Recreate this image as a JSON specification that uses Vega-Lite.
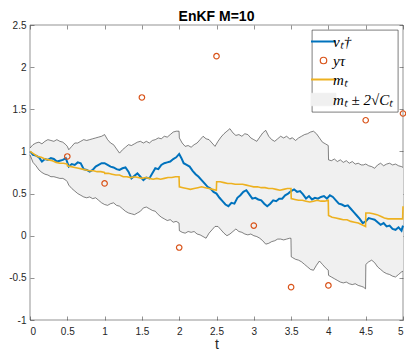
{
  "$schema": "https://vega.github.io/schema/vega-lite/v6.json",
  "width": 373,
  "height": 295,
  "autosize": "none",
  "padding": {"left": 30, "top": 25, "right": 3, "bottom": 31},
  "background": "white",
  "title": {"text": "EnKF M=10", "font": "Liberation Sans", "fontSize": 14, "fontWeight": "bold", "color": "black", "offset": -4, "anchor": "middle"},
  "config": {
    "view": {"stroke": "#262626", "strokeWidth": 0.5},
    "axis": {"grid": false, "domain": false, "tickColor": "#262626", "tickWidth": 0.5, "tickSize": -4, "labelFont": "Liberation Sans", "labelFontSize": 10, "labelColor": "#262626", "titleFont": "Liberation Sans", "titleColor": "#262626", "titleFontWeight": "normal"}
  },
  "datasets": {
    "band": [
      {"t":0,"hi":1.04,"lo":0.96},{"t":0.04,"hi":1.08,"lo":0.87},{"t":0.08,"hi":1.10,"lo":0.83},{"t":0.12,"hi":1.11,"lo":0.78},{"t":0.16,"hi":1.09,"lo":0.75},{"t":0.20,"hi":1.12,"lo":0.73},{"t":0.24,"hi":1.14,"lo":0.72},{"t":0.28,"hi":1.13,"lo":0.70},{"t":0.32,"hi":1.12,"lo":0.70},{"t":0.36,"hi":1.14,"lo":0.69},{"t":0.40,"hi":1.12,"lo":0.68},{"t":0.44,"hi":1.11,"lo":0.68},{"t":0.48,"hi":1.08,"lo":0.66},{"t":0.50,"hi":1.06,"lo":0.64},{"t":0.52,"hi":1.02,"lo":0.60},{"t":0.56,"hi":1.06,"lo":0.56},{"t":0.60,"hi":1.10,"lo":0.53},{"t":0.64,"hi":1.10,"lo":0.50},{"t":0.68,"hi":1.12,"lo":0.48},{"t":0.72,"hi":1.14,"lo":0.46},{"t":0.76,"hi":1.13,"lo":0.45},{"t":0.80,"hi":1.14,"lo":0.46},{"t":0.84,"hi":1.15,"lo":0.44},{"t":0.88,"hi":1.16,"lo":0.45},{"t":0.92,"hi":1.17,"lo":0.42},{"t":0.96,"hi":1.18,"lo":0.39},{"t":1.00,"hi":1.20,"lo":0.37},{"t":1.04,"hi":1.14,"lo":0.36},{"t":1.08,"hi":1.10,"lo":0.38},{"t":1.12,"hi":1.08,"lo":0.39},{"t":1.16,"hi":1.03,"lo":0.36},{"t":1.20,"hi":0.98,"lo":0.35},{"t":1.24,"hi":1.02,"lo":0.32},{"t":1.28,"hi":1.05,"lo":0.29},{"t":1.32,"hi":1.08,"lo":0.27},{"t":1.36,"hi":1.07,"lo":0.26},{"t":1.40,"hi":1.09,"lo":0.25},{"t":1.44,"hi":1.11,"lo":0.27},{"t":1.48,"hi":1.12,"lo":0.29},{"t":1.52,"hi":1.10,"lo":0.33},{"t":1.56,"hi":1.12,"lo":0.34},{"t":1.60,"hi":1.10,"lo":0.32},{"t":1.64,"hi":1.13,"lo":0.30},{"t":1.68,"hi":1.14,"lo":0.29},{"t":1.72,"hi":1.16,"lo":0.25},{"t":1.76,"hi":1.15,"lo":0.22},{"t":1.80,"hi":1.18,"lo":0.20},{"t":1.84,"hi":1.17,"lo":0.18},{"t":1.88,"hi":1.20,"lo":0.19},{"t":1.92,"hi":1.23,"lo":0.16},{"t":1.96,"hi":1.24,"lo":0.17},{"t":1.998,"hi":1.24,"lo":0.15},{"t":2.002,"hi":1.16,"lo":0.06},{"t":2.04,"hi":1.10,"lo":0.04},{"t":2.08,"hi":1.06,"lo":0.03},{"t":2.12,"hi":1.07,"lo":0.05},{"t":2.16,"hi":1.05,"lo":0.04},{"t":2.20,"hi":1.08,"lo":0.05},{"t":2.24,"hi":1.10,"lo":0.02},{"t":2.28,"hi":1.14,"lo":0.01},{"t":2.32,"hi":1.18,"lo":-0.01},{"t":2.36,"hi":1.15,"lo":-0.03},{"t":2.40,"hi":1.14,"lo":0.03},{"t":2.44,"hi":1.10,"lo":0.07},{"t":2.48,"hi":1.06,"lo":0.11},{"t":2.52,"hi":1.12,"lo":0.11},{"t":2.56,"hi":1.17,"lo":0.07},{"t":2.60,"hi":1.21,"lo":0.03},{"t":2.64,"hi":1.24,"lo":0.00},{"t":2.68,"hi":1.27,"lo":0.02},{"t":2.72,"hi":1.22,"lo":0.05},{"t":2.76,"hi":1.19,"lo":0.08},{"t":2.80,"hi":1.20,"lo":0.05},{"t":2.84,"hi":1.18,"lo":0.04},{"t":2.88,"hi":1.21,"lo":0.02},{"t":2.92,"hi":1.20,"lo":0.01},{"t":2.96,"hi":1.16,"lo":0.02},{"t":3.00,"hi":1.14,"lo":0.00},{"t":3.04,"hi":1.12,"lo":-0.01},{"t":3.08,"hi":1.17,"lo":-0.03},{"t":3.12,"hi":1.22,"lo":-0.06},{"t":3.16,"hi":1.25,"lo":-0.10},{"t":3.20,"hi":1.18,"lo":-0.09},{"t":3.24,"hi":1.14,"lo":-0.07},{"t":3.28,"hi":1.12,"lo":-0.06},{"t":3.32,"hi":1.15,"lo":-0.04},{"t":3.36,"hi":1.18,"lo":-0.04},{"t":3.40,"hi":1.16,"lo":-0.05},{"t":3.44,"hi":1.18,"lo":-0.04},{"t":3.48,"hi":1.15,"lo":-0.03},{"t":3.498,"hi":1.15,"lo":-0.03},{"t":3.502,"hi":1.16,"lo":-0.25},{"t":3.52,"hi":1.16,"lo":-0.26},{"t":3.56,"hi":1.13,"lo":-0.28},{"t":3.60,"hi":1.16,"lo":-0.29},{"t":3.64,"hi":1.18,"lo":-0.31},{"t":3.68,"hi":1.20,"lo":-0.34},{"t":3.72,"hi":1.21,"lo":-0.37},{"t":3.76,"hi":1.23,"lo":-0.40},{"t":3.80,"hi":1.24,"lo":-0.41},{"t":3.84,"hi":1.21,"lo":-0.35},{"t":3.88,"hi":1.16,"lo":-0.30},{"t":3.92,"hi":1.11,"lo":-0.34},{"t":3.96,"hi":1.09,"lo":-0.38},{"t":3.998,"hi":1.07,"lo":-0.41},{"t":4.002,"hi":0.90,"lo":-0.47},{"t":4.04,"hi":0.89,"lo":-0.49},{"t":4.08,"hi":0.91,"lo":-0.51},{"t":4.12,"hi":0.88,"lo":-0.53},{"t":4.16,"hi":0.90,"lo":-0.55},{"t":4.20,"hi":0.87,"lo":-0.56},{"t":4.24,"hi":0.89,"lo":-0.55},{"t":4.28,"hi":0.86,"lo":-0.57},{"t":4.32,"hi":0.88,"lo":-0.58},{"t":4.36,"hi":0.85,"lo":-0.57},{"t":4.40,"hi":0.86,"lo":-0.59},{"t":4.44,"hi":0.84,"lo":-0.60},{"t":4.47,"hi":0.84,"lo":-0.61},{"t":4.498,"hi":0.85,"lo":-0.63},{"t":4.502,"hi":0.85,"lo":-0.34},{"t":4.54,"hi":0.83,"lo":-0.31},{"t":4.58,"hi":0.82,"lo":-0.29},{"t":4.62,"hi":0.80,"lo":-0.32},{"t":4.66,"hi":0.84,"lo":-0.37},{"t":4.70,"hi":0.86,"lo":-0.40},{"t":4.74,"hi":0.83,"lo":-0.43},{"t":4.78,"hi":0.85,"lo":-0.45},{"t":4.82,"hi":0.86,"lo":-0.46},{"t":4.86,"hi":0.84,"lo":-0.48},{"t":4.90,"hi":0.85,"lo":-0.49},{"t":4.94,"hi":0.83,"lo":-0.46},{"t":4.98,"hi":0.82,"lo":-0.43},{"t":5.00,"hi":0.81,"lo":-0.42}
    ],
    "truth": [
      {"t":0,"v":1.00},{"t":0.04,"v":0.96},{"t":0.08,"v":0.95},{"t":0.12,"v":0.93},{"t":0.16,"v":0.88},{"t":0.2,"v":0.91},{"t":0.24,"v":0.9},{"t":0.28,"v":0.92},{"t":0.32,"v":0.91},{"t":0.36,"v":0.88},{"t":0.4,"v":0.89},{"t":0.44,"v":0.9},{"t":0.48,"v":0.92},{"t":0.52,"v":0.82},{"t":0.56,"v":0.85},{"t":0.6,"v":0.84},{"t":0.64,"v":0.87},{"t":0.68,"v":0.86},{"t":0.72,"v":0.79},{"t":0.76,"v":0.78},{"t":0.8,"v":0.76},{"t":0.84,"v":0.78},{"t":0.88,"v":0.82},{"t":0.92,"v":0.84},{"t":0.96,"v":0.86},{"t":1.0,"v":0.86},{"t":1.04,"v":0.84},{"t":1.08,"v":0.82},{"t":1.12,"v":0.81},{"t":1.16,"v":0.79},{"t":1.2,"v":0.78},{"t":1.24,"v":0.8},{"t":1.28,"v":0.81},{"t":1.32,"v":0.76},{"t":1.36,"v":0.68},{"t":1.4,"v":0.71},{"t":1.44,"v":0.74},{"t":1.48,"v":0.7},{"t":1.52,"v":0.66},{"t":1.56,"v":0.69},{"t":1.6,"v":0.68},{"t":1.64,"v":0.74},{"t":1.68,"v":0.8},{"t":1.72,"v":0.79},{"t":1.76,"v":0.84},{"t":1.8,"v":0.86},{"t":1.84,"v":0.87},{"t":1.88,"v":0.88},{"t":1.92,"v":0.91},{"t":1.96,"v":0.93},{"t":2.0,"v":0.97},{"t":2.03,"v":0.92},{"t":2.06,"v":0.86},{"t":2.1,"v":0.84},{"t":2.14,"v":0.82},{"t":2.18,"v":0.77},{"t":2.22,"v":0.73},{"t":2.26,"v":0.7},{"t":2.3,"v":0.66},{"t":2.34,"v":0.62},{"t":2.38,"v":0.58},{"t":2.42,"v":0.56},{"t":2.46,"v":0.52},{"t":2.5,"v":0.5},{"t":2.54,"v":0.45},{"t":2.58,"v":0.41},{"t":2.62,"v":0.37},{"t":2.66,"v":0.35},{"t":2.7,"v":0.39},{"t":2.74,"v":0.38},{"t":2.78,"v":0.45},{"t":2.82,"v":0.48},{"t":2.86,"v":0.52},{"t":2.9,"v":0.54},{"t":2.94,"v":0.49},{"t":2.98,"v":0.44},{"t":3.02,"v":0.45},{"t":3.06,"v":0.43},{"t":3.1,"v":0.42},{"t":3.14,"v":0.38},{"t":3.18,"v":0.35},{"t":3.22,"v":0.38},{"t":3.26,"v":0.42},{"t":3.3,"v":0.41},{"t":3.34,"v":0.44},{"t":3.38,"v":0.44},{"t":3.42,"v":0.48},{"t":3.46,"v":0.5},{"t":3.5,"v":0.53},{"t":3.54,"v":0.55},{"t":3.58,"v":0.52},{"t":3.62,"v":0.53},{"t":3.66,"v":0.49},{"t":3.7,"v":0.44},{"t":3.74,"v":0.47},{"t":3.78,"v":0.43},{"t":3.82,"v":0.45},{"t":3.86,"v":0.44},{"t":3.9,"v":0.46},{"t":3.94,"v":0.47},{"t":3.98,"v":0.44},{"t":4.02,"v":0.48},{"t":4.06,"v":0.46},{"t":4.1,"v":0.42},{"t":4.14,"v":0.38},{"t":4.18,"v":0.37},{"t":4.22,"v":0.35},{"t":4.26,"v":0.36},{"t":4.3,"v":0.32},{"t":4.34,"v":0.28},{"t":4.38,"v":0.24},{"t":4.42,"v":0.2},{"t":4.46,"v":0.15},{"t":4.5,"v":0.17},{"t":4.54,"v":0.21},{"t":4.58,"v":0.2},{"t":4.62,"v":0.19},{"t":4.66,"v":0.16},{"t":4.7,"v":0.13},{"t":4.74,"v":0.15},{"t":4.78,"v":0.11},{"t":4.82,"v":0.12},{"t":4.86,"v":0.08},{"t":4.9,"v":0.07},{"t":4.94,"v":0.1},{"t":4.98,"v":0.06},{"t":5.0,"v":0.12}
    ],
    "mean": [
      {"t":0,"m":1.00},{"t":0.05,"m":0.97},{"t":0.10,"m":0.94},{"t":0.15,"m":0.93},{"t":0.20,"m":0.91},{"t":0.25,"m":0.90},{"t":0.30,"m":0.89},{"t":0.35,"m":0.87},{"t":0.40,"m":0.86},{"t":0.45,"m":0.86},{"t":0.498,"m":0.85},{"t":0.502,"m":0.83},{"t":0.55,"m":0.82},{"t":0.60,"m":0.81},{"t":0.65,"m":0.80},{"t":0.70,"m":0.79},{"t":0.75,"m":0.78},{"t":0.80,"m":0.77},{"t":0.85,"m":0.77},{"t":0.90,"m":0.76},{"t":0.95,"m":0.76},{"t":0.998,"m":0.75},{"t":1.002,"m":0.74},{"t":1.05,"m":0.74},{"t":1.10,"m":0.73},{"t":1.15,"m":0.72},{"t":1.20,"m":0.72},{"t":1.25,"m":0.70},{"t":1.30,"m":0.70},{"t":1.35,"m":0.69},{"t":1.40,"m":0.70},{"t":1.45,"m":0.69},{"t":1.50,"m":0.68},{"t":1.55,"m":0.69},{"t":1.60,"m":0.68},{"t":1.65,"m":0.67},{"t":1.70,"m":0.68},{"t":1.75,"m":0.67},{"t":1.80,"m":0.68},{"t":1.85,"m":0.69},{"t":1.90,"m":0.69},{"t":1.95,"m":0.70},{"t":1.998,"m":0.70},{"t":2.002,"m":0.58},{"t":2.05,"m":0.57},{"t":2.10,"m":0.56},{"t":2.15,"m":0.55},{"t":2.20,"m":0.56},{"t":2.25,"m":0.57},{"t":2.30,"m":0.58},{"t":2.35,"m":0.57},{"t":2.40,"m":0.56},{"t":2.45,"m":0.55},{"t":2.498,"m":0.54},{"t":2.502,"m":0.64},{"t":2.55,"m":0.64},{"t":2.60,"m":0.63},{"t":2.65,"m":0.62},{"t":2.70,"m":0.62},{"t":2.75,"m":0.61},{"t":2.80,"m":0.61},{"t":2.85,"m":0.61},{"t":2.90,"m":0.60},{"t":2.95,"m":0.59},{"t":2.998,"m":0.58},{"t":3.002,"m":0.58},{"t":3.05,"m":0.58},{"t":3.10,"m":0.57},{"t":3.15,"m":0.57},{"t":3.20,"m":0.56},{"t":3.25,"m":0.56},{"t":3.30,"m":0.55},{"t":3.35,"m":0.54},{"t":3.40,"m":0.55},{"t":3.45,"m":0.56},{"t":3.498,"m":0.56},{"t":3.502,"m":0.44},{"t":3.55,"m":0.43},{"t":3.60,"m":0.42},{"t":3.65,"m":0.42},{"t":3.70,"m":0.41},{"t":3.75,"m":0.40},{"t":3.80,"m":0.41},{"t":3.85,"m":0.42},{"t":3.90,"m":0.41},{"t":3.95,"m":0.41},{"t":3.998,"m":0.42},{"t":4.002,"m":0.24},{"t":4.05,"m":0.22},{"t":4.10,"m":0.21},{"t":4.15,"m":0.20},{"t":4.20,"m":0.19},{"t":4.25,"m":0.19},{"t":4.30,"m":0.17},{"t":4.35,"m":0.16},{"t":4.40,"m":0.15},{"t":4.45,"m":0.13},{"t":4.498,"m":0.11},{"t":4.502,"m":0.27},{"t":4.55,"m":0.27},{"t":4.60,"m":0.26},{"t":4.65,"m":0.25},{"t":4.70,"m":0.23},{"t":4.75,"m":0.21},{"t":4.80,"m":0.20},{"t":4.85,"m":0.20},{"t":4.90,"m":0.20},{"t":4.95,"m":0.20},{"t":4.995,"m":0.20},{"t":5.0,"m":0.35}
    ],
    "obs": [
      {"t":0.5,"y":0.94},{"t":1.0,"y":0.62},{"t":1.5,"y":1.64},{"t":2.0,"y":-0.14},{"t":2.5,"y":2.13},{"t":3.0,"y":0.12},{"t":3.5,"y":-0.61},{"t":4.0,"y":-0.59},{"t":4.5,"y":1.37},{"t":5.0,"y":1.45}
    ]
  },
  "resolve": {"axis": {"x": "independent", "y": "independent"}},
  "layer": [
    {
      "data": {"name": "band"},
      "mark": {"type": "area", "opacity": 1},
      "encoding": {
        "x": {"field": "t", "type": "quantitative", "scale": {"domain": [0, 5], "nice": false, "zero": false}, "axis": {"orient": "bottom", "values": [0,0.5,1,1.5,2,2.5,3,3.5,4,4.5,5], "labelExpr": "'' + datum.value", "labelPadding": 10, "title": "t", "titleFontSize": 14, "titlePadding": 1}},
        "y": {"field": "lo", "type": "quantitative", "scale": {"domain": [-1, 2.5], "nice": false, "zero": false}, "axis": {"orient": "left", "values": [-1,-0.5,0,0.5,1,1.5,2,2.5], "labelExpr": "'' + datum.value", "labelPadding": 8, "title": null}},
        "y2": {"field": "hi"},
        "color": {"datum": "mₜ ± 2√Cₜ", "type": "nominal"}
      }
    },
    {
      "data": {"name": "band"},
      "mark": {"type": "line", "stroke": "#303030", "strokeWidth": 0.6},
      "encoding": {
        "x": {"field": "t", "type": "quantitative", "axis": {"orient": "top", "values": [0,0.5,1,1.5,2,2.5,3,3.5,4,4.5,5], "labels": false, "title": null}},
        "y": {"field": "hi", "type": "quantitative", "axis": {"orient": "right", "values": [-1,-0.5,0,0.5,1,1.5,2,2.5], "labels": false, "title": null}}
      }
    },
    {
      "data": {"name": "band"},
      "mark": {"type": "line", "stroke": "#303030", "strokeWidth": 0.6},
      "encoding": {
        "x": {"field": "t", "type": "quantitative", "axis": null},
        "y": {"field": "lo", "type": "quantitative", "axis": null}
      }
    },
    {
      "data": {"name": "truth"},
      "mark": {"type": "line", "strokeWidth": 2},
      "encoding": {
        "x": {"field": "t", "type": "quantitative", "axis": null},
        "y": {"field": "v", "type": "quantitative", "axis": null},
        "color": {"datum": "vₜ†", "type": "nominal",
          "scale": {"domain": ["vₜ†", "yτ", "mₜ", "mₜ ± 2√Cₜ"], "range": ["#0072BD", "#D95319", "#EDB120", "#F0F0F0"]},
          "legend": {
            "title": null, "orient": "top-right", "offset": 5, "padding": 4,
            "fillColor": "white", "strokeColor": "#262626",
            "labelFont": "Liberation Serif", "labelFontStyle": "italic", "labelFontSize": 15, "labelColor": "black", "labelOffset": 2,
            "symbolSize": 625, "rowPadding": 3, "symbolStrokeWidth": 2,
            "encode": {
              "legend": {"update": {"strokeWidth": {"value": 0.6}}},
              "symbols": {"update": {
                "shape": {"signal": "datum.value === 'yτ' ? 'circle' : (datum.value === 'mₜ ± 2√Cₜ' ? 'M-1,-0.5H1V0.5H-1Z' : 'stroke')"},
                "size": {"signal": "datum.value === 'yτ' ? 42 : 625"},
                "fill": {"signal": "datum.value === 'mₜ ± 2√Cₜ' ? '#F0F0F0' : 'white'"},
                "fillOpacity": {"signal": "datum.value === 'mₜ ± 2√Cₜ' ? 1 : 0"},
                "stroke": {"signal": "datum.value === 'vₜ†' ? '#0072BD' : (datum.value === 'yτ' ? '#D95319' : (datum.value === 'mₜ' ? '#EDB120' : '#7a7a7a'))"},
                "strokeWidth": {"signal": "datum.value === 'yτ' ? 1.2 : (datum.value === 'mₜ ± 2√Cₜ' ? 0.8 : 2)"},
                "opacity": {"value": 1}
              }}
            }
          }
        }
      }
    },
    {
      "data": {"name": "mean"},
      "mark": {"type": "line", "strokeWidth": 1.6},
      "encoding": {
        "x": {"field": "t", "type": "quantitative", "axis": null},
        "y": {"field": "m", "type": "quantitative", "axis": null},
        "color": {"datum": "mₜ", "type": "nominal"}
      }
    },
    {
      "data": {"name": "obs"},
      "mark": {"type": "point", "shape": "circle", "filled": false, "size": 30, "strokeWidth": 1.2, "opacity": 1},
      "encoding": {
        "x": {"field": "t", "type": "quantitative", "axis": null},
        "y": {"field": "y", "type": "quantitative", "axis": null},
        "color": {"datum": "yτ", "type": "nominal"}
      }
    }
  ]
}
